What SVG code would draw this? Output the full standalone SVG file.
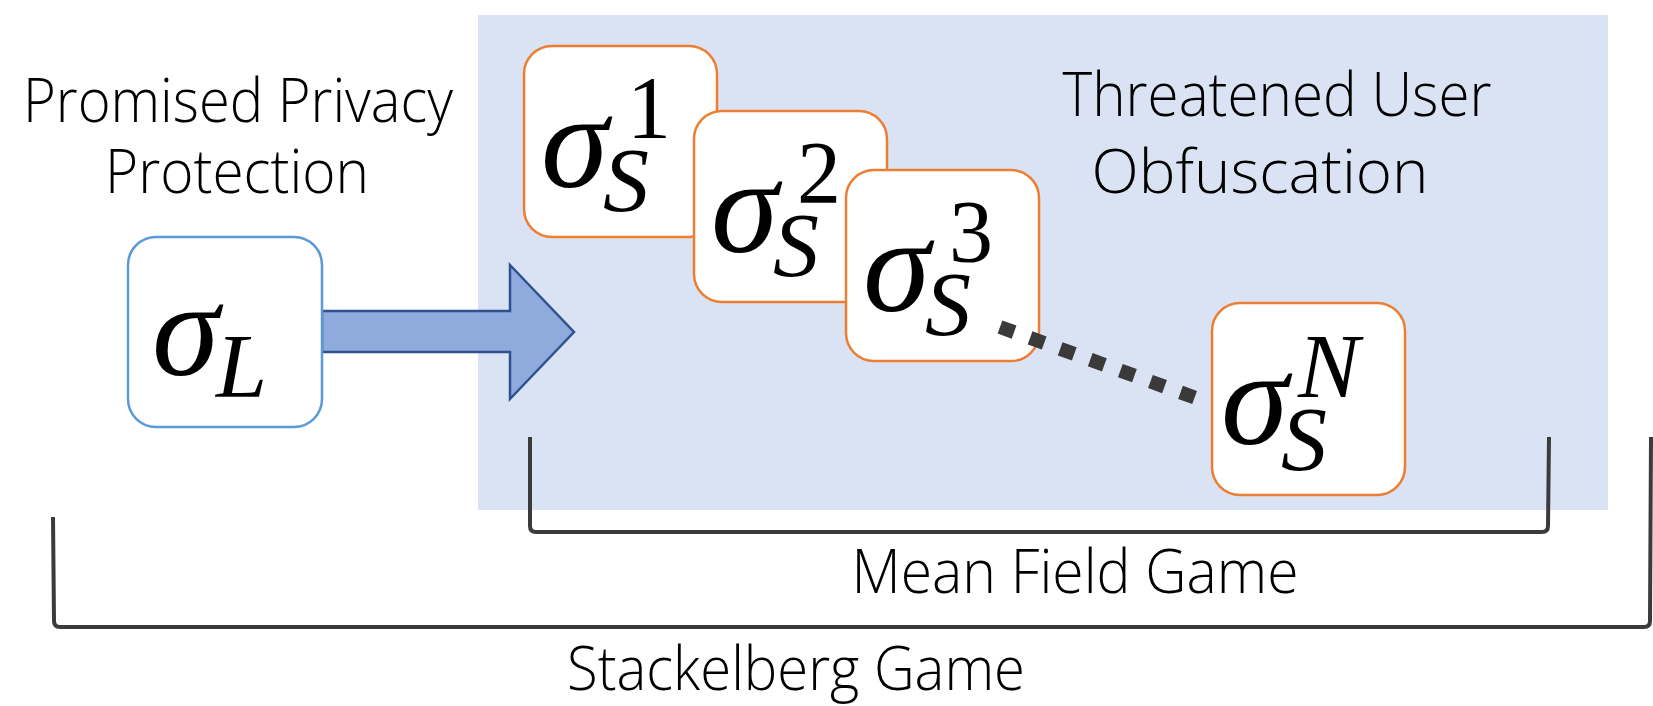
<svg xmlns="http://www.w3.org/2000/svg" width="1653" height="706" viewBox="0 0 1653 706">
<style>
.lbl{font-family:"Open Sans","Noto Sans","Liberation Sans",sans-serif;font-weight:300;font-size:60px;fill:#000;text-anchor:middle}
.box{fill:#fff;stroke-width:2.5}
.lb{stroke:#5B9BD5}
.ob{stroke:#ED7D31}
.m{font-family:"Liberation Serif","DejaVu Serif",serif;fill:#000}
.sig{font-style:italic;font-size:136px}
.sub{font-style:italic;font-size:92px}
.sup{font-size:88px}
.br{fill:none;stroke:#3b3b3b;stroke-width:4}
</style>
<rect id="mfg-area" x="478" y="15" width="1130" height="495" fill="#DAE3F3"/>
<text class="lbl" x="238" y="122" textLength="430" lengthAdjust="spacingAndGlyphs">Promised Privacy</text>
<text class="lbl" x="237" y="193" textLength="264" lengthAdjust="spacingAndGlyphs">Protection</text>
<text class="lbl" x="1277" y="116" textLength="429" lengthAdjust="spacingAndGlyphs">Threatened User</text>
<text class="lbl" x="1260" y="193" textLength="337" lengthAdjust="spacingAndGlyphs">Obfuscation</text>
<g id="connectors">
<path d="M322 311 L510 311 L510 265 L574 332 L510 399 L510 352 L322 352 Z" fill="#8FAADC" stroke="#2F528F" stroke-width="2.5" stroke-linejoin="miter"/>
</g>
<g id="node-L">
<rect class="box lb" x="128" y="237" width="194" height="190" rx="28"/>
<text class="m sig" x="152" y="375">σ</text>
<text class="m sub" x="216" y="397">L</text>
</g>
<g id="node-S1">
<rect class="box ob" x="524" y="46" width="193" height="191" rx="28"/>
<text class="m sig" x="541" y="187">σ</text>
<text class="m sub" x="603" y="211">S</text>
<text class="m sup" x="627" y="137">1</text>
</g>
<g id="node-S2">
<rect class="box ob" x="694" y="111" width="193" height="191" rx="28"/>
<text class="m sig" x="711" y="252">σ</text>
<text class="m sub" x="773" y="276">S</text>
<text class="m sup" x="797" y="202">2</text>
</g>
<g id="node-S3">
<rect class="box ob" x="846" y="170" width="193" height="191" rx="28"/>
<text class="m sig" x="863" y="311">σ</text>
<text class="m sub" x="925" y="335">S</text>
<text class="m sup" x="949" y="261">3</text>
</g>
<g id="dots">
<line x1="1000" y1="327" x2="1196" y2="398" stroke="#3a3a3a" stroke-width="14" stroke-dasharray="15 17"/>
</g>
<g id="node-SN">
<rect class="box ob" x="1212" y="303" width="193" height="192" rx="28"/>
<text class="m sig" x="1221" y="444">σ</text>
<text class="m sub" x="1281" y="470">S</text>
<text class="m sub" x="1298" y="397">N</text>
</g>
<g id="brackets">
<path class="br" d="M530 437 L530 526 Q530 532 536 532 L1542 532 Q1548 532 1548 526 L1549 437"/>
<path class="br" d="M53 517 L54 621 Q54 627 60 627 L1644 627 Q1650 627 1650 621 L1651 437"/>
</g>
<text class="lbl" x="1075" y="593" textLength="447" lengthAdjust="spacingAndGlyphs">Mean Field Game</text>
<text class="lbl" x="796" y="690" textLength="458" lengthAdjust="spacingAndGlyphs">Stackelberg Game</text>
</svg>
